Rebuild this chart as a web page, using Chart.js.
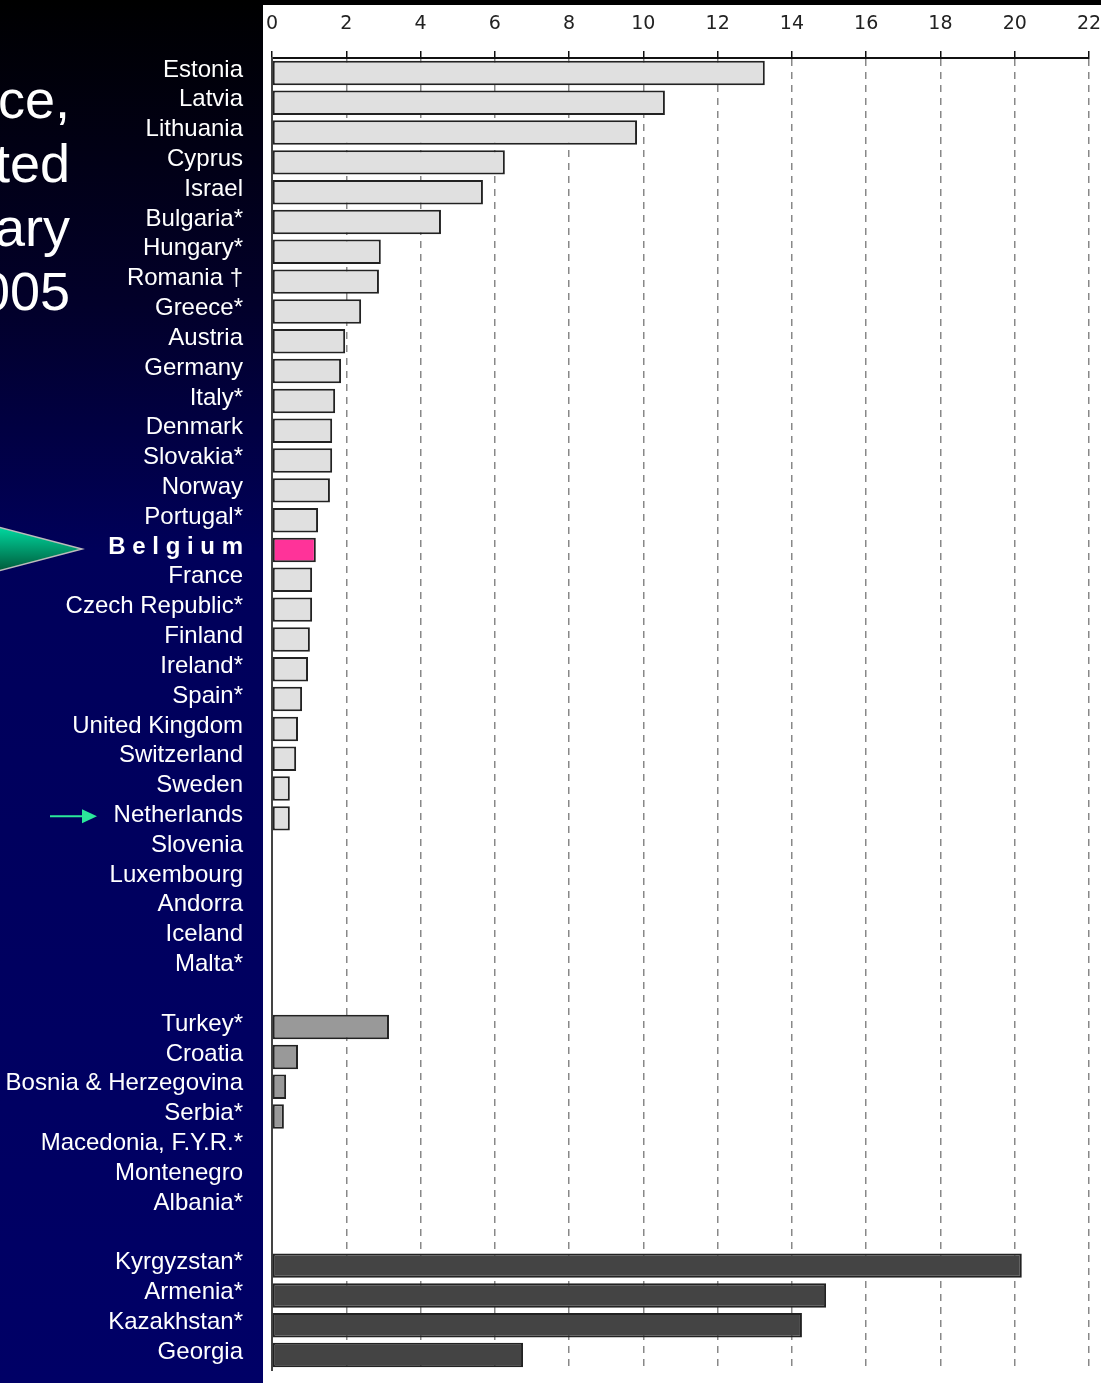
<!DOCTYPE html>
<html>
<head>
<meta charset="utf-8">
<script src="https://cdn.jsdelivr.net/npm/chart.js@4.4.0/dist/chart.umd.min.js"></script>
<style>
body { margin: 0; background: #fff; }
canvas { display: block; }
</style>
</head>
<body>
<canvas id="chart" width="1101" height="1383"></canvas>
<script>
// EU / EFTA countries
var westCountries = ['Estonia', 'Latvia', 'Lithuania', 'Cyprus', 'Israel', 'Bulgaria*', 'Hungary*',
    'Romania \u2020', 'Greece*', 'Austria', 'Germany', 'Italy*', 'Denmark', 'Slovakia*', 'Norway',
    'Portugal*', 'Belgium', 'France', 'Czech Republic*', 'Finland', 'Ireland*', 'Spain*',
    'United Kingdom', 'Switzerland', 'Sweden', 'Netherlands', 'Slovenia', 'Luxembourg', 'Andorra',
    'Iceland', 'Malta*'];
var westValues = [13.27, 10.58, 9.83, 6.27, 5.68, 4.55, 2.93, 2.88, 2.40, 1.97, 1.86, 1.70, 1.62, 1.62,
    1.56, 1.24, 1.18, 1.08, 1.08, 1.02, 0.97, 0.81, 0.70, 0.65, 0.48, 0.48, null, null, null, null, null];

// south-east Europe
var balkanCountries = ['Turkey*', 'Croatia', 'Bosnia & Herzegovina', 'Serbia*', 'Macedonia, F.Y.R.*',
    'Montenegro', 'Albania*'];
var balkanValues = [3.15, 0.70, 0.38, 0.32, null, null, null];

// former USSR
var eastCountries = ['Kyrgyzstan*', 'Armenia*', 'Kazakhstan*', 'Georgia'];
var eastValues = [20.19, 14.92, 14.27, 6.76];

var xTicks = [0, 2, 4, 6, 8, 10, 12, 14, 16, 18, 20, 22];
var highlight = 'Belgium';
var titleLines = ['ce,', 'ted', 'ary', '005'];

var westColor = '#e0e0e0', balkanColor = '#999999', eastColor = '#444444', highlightColor = '#ff3399';

// one blank row between the groups
var labels = [], values = [], colors = [];
function addGroup(names, vals, color) {
    for (var i = 0; i < names.length; i++) {
        labels.push(names[i]);
        values.push(vals[i]);
        colors.push(names[i] === highlight ? highlightColor : color);
    }
}
addGroup(westCountries, westValues, westColor);
labels.push(''); values.push(null); colors.push(westColor);
addGroup(balkanCountries, balkanValues, balkanColor);
labels.push(' '); values.push(null); colors.push(westColor);
addGroup(eastCountries, eastValues, eastColor);

var highlightIndex = labels.indexOf(highlight);
var netherlandsIndex = labels.indexOf('Netherlands');

var backdrop = {
    id: 'backdrop',
    beforeDraw: function (chart) {
        var ctx = chart.ctx;
        var w = chart.width, h = chart.height;
        var panel = 263;
        ctx.save();
        ctx.fillStyle = '#ffffff';
        ctx.fillRect(0, 0, w, h);
        var g = ctx.createLinearGradient(0, 0, 0, h);
        g.addColorStop(0, '#000000');
        g.addColorStop(0.22, '#02002a');
        g.addColorStop(0.4, '#00005a');
        g.addColorStop(1, '#000066');
        ctx.fillStyle = g;
        ctx.fillRect(0, 0, panel, h);
        ctx.fillStyle = '#000000';
        ctx.fillRect(panel, 0, w - panel, 5);

        // title, cut off at the left edge
        ctx.fillStyle = '#ffffff';
        ctx.font = '54px "Liberation Sans", Arial, sans-serif';
        ctx.textAlign = 'right';
        ctx.textBaseline = 'alphabetic';
        for (var i = 0; i < titleLines.length; i++) {
            ctx.fillText(titleLines[i], 70, 118 + i * 64);
        }
        ctx.restore();
    },
    afterDraw: function (chart) {
        var ctx = chart.ctx;
        var y = chart.scales.y;
        ctx.save();
        // big pointer at the highlighted country
        var yb = y.getPixelForValue(highlightIndex) - 1;
        var tg = ctx.createLinearGradient(0, yb - 22, 0, yb + 22);
        tg.addColorStop(0, '#00d9a0');
        tg.addColorStop(1, '#005a3a');
        ctx.beginPath();
        ctx.moveTo(-2, yb - 22);
        ctx.lineTo(82, yb);
        ctx.lineTo(-2, yb + 22);
        ctx.closePath();
        ctx.fillStyle = tg;
        ctx.fill();
        ctx.strokeStyle = '#bbbbbb';
        ctx.lineWidth = 1.5;
        ctx.stroke();

        // small arrow at Netherlands
        var yn = y.getPixelForValue(netherlandsIndex) - 2;
        ctx.strokeStyle = '#2be89a';
        ctx.fillStyle = '#2be89a';
        ctx.lineWidth = 2;
        ctx.beginPath();
        ctx.moveTo(50, yn);
        ctx.lineTo(84, yn);
        ctx.stroke();
        ctx.beginPath();
        ctx.moveTo(82, yn - 7);
        ctx.lineTo(97, yn);
        ctx.lineTo(82, yn + 7);
        ctx.closePath();
        ctx.fill();
        ctx.restore();
    }
};

new Chart(document.getElementById('chart').getContext('2d'), {
    type: 'bar',
    data: {
        labels: labels,
        datasets: [{
            data: values,
            backgroundColor: colors,
            borderColor: '#222222',
            borderWidth: 2,
            borderSkipped: false,
            barPercentage: 0.82,
            categoryPercentage: 1
        }]
    },
    options: {
        indexAxis: 'y',
        responsive: false,
        animation: false,
        layout: { padding: { top: 0, left: 0, right: 12, bottom: 13 } },
        plugins: {
            legend: { display: false },
            tooltip: { enabled: false }
        },
        scales: {
            x: {
                position: 'top',
                min: 0,
                max: 22,
                afterFit: function (scale) {
                    scale.height = 58;
                    scale.paddingLeft = 0;
                    scale.paddingRight = 0;
                },
                afterBuildTicks: function (scale) {
                    scale.ticks = xTicks.map(function (v) { return { value: v }; });
                },
                ticks: {
                    padding: 16,
                    color: '#222222',
                    maxRotation: 0,
                    font: { family: '"DejaVu Sans", sans-serif', size: 19 }
                },
                grid: {
                    color: '#888888',
                    lineWidth: 1.5,
                    tickColor: '#111111',
                    tickWidth: 1.5,
                    tickLength: 7
                },
                border: { color: '#111111', width: 2, dash: [7, 6] }
            },
            y: {
                afterFit: function (scale) {
                    scale.width = 272;
                    scale.paddingTop = 0;
                    scale.paddingBottom = 0;
                },
                grid: { display: false, drawTicks: false },
                border: { color: '#444444', width: 2 },
                ticks: {
                    autoSkip: false,
                    padding: 29,
                    labelOffset: -3,
                    color: '#ffffff',
                    callback: function (value, index) {
                        var name = labels[index];
                        return index === highlightIndex ? name.split('').join(' ') : name;
                    },
                    font: function (ctx) {
                        return {
                            family: '"Liberation Sans", Arial, sans-serif',
                            size: 24,
                            weight: ctx.index === highlightIndex ? 'bold' : 'normal'
                        };
                    }
                }
            }
        }
    },
    plugins: [backdrop]
});
</script>
</body>
</html>
